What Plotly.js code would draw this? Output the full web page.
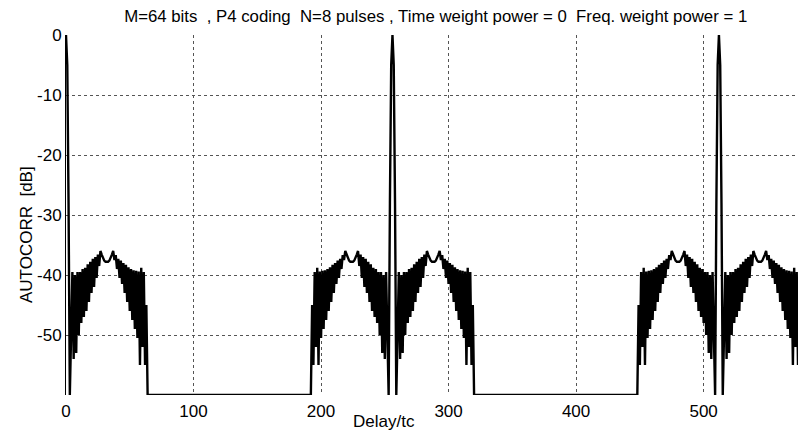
<!DOCTYPE html>
<html>
<head>
<meta charset="utf-8">
<script src="https://cdn.plot.ly/plotly-3.0.1.min.js"></script>
<style>html,body{margin:0;padding:0;background:#fff;}#chart{width:798px;height:434px;}</style>
</head>
<body>
<div id="chart"></div>
<script>
// Peak positions (Delay/tc) of the pulse-train autocorrelation
var peakDelays = [0, 256, 512];
// Main-lobe level (dB) at distance 0..3 from a peak
var mainLobeDb = [0, -5, -28, -60];
// Side-lobe level (dB) at distance 4..64 from a peak
var sideLobeDb = [
  -50, -39.5, -54, -40, -53, -39.5, -50, -39.5,
  -48, -39, -47, -38.8, -46, -38.2, -44.5, -37.8, -43, -37.3,
  -42, -37, -40.5, -36.6, -38.5, -36, -36.6, -37.2, -37.6, -37.8,
  -37.8, -37.8, -37.6, -37.2, -36.6, -36, -37.5, -36.7, -39, -37.3,
  -40.5, -37.6, -41.5, -38, -43, -38.3, -44.5, -38.7, -46, -39,
  -47.5, -39.2, -49, -39.3, -50.5, -39.4, -55, -38.8, -52, -39.5,
  -55, -45, -60
];
// Floor of the displayed range (dB)
var floorDb = -60;
var maxDelay = 574;

var delays = [], autocorr = [];
for (var x = 0; x <= maxDelay; x++) {
  var d = Infinity;
  peakDelays.forEach(function (p) { d = Math.min(d, Math.abs(x - p)); });
  var v;
  if (d < mainLobeDb.length) v = mainLobeDb[d];
  else if (d - mainLobeDb.length < sideLobeDb.length) v = sideLobeDb[d - mainLobeDb.length];
  else v = floorDb;
  delays.push(x);
  autocorr.push(v);
}

var xTicks = [0, 100, 200, 300, 400, 500];
var yTicks = [-60, -50, -40, -30, -20, -10, 0];
var yTickText = ['', '-50', '-40', '-30', '-20', '-10', '0'];

var font = 'Liberation Sans, Arial, sans-serif';

var trace = {
  x: delays, y: autocorr, type: 'scatter', mode: 'lines',
  line: {color: '#000', width: 2.4}, hoverinfo: 'skip'
};

var layout = {
  width: 798, height: 434,
  margin: {l: 66, r: 0, t: 35, b: 39},
  paper_bgcolor: '#fff', plot_bgcolor: '#fff',
  showlegend: false,
  font: {family: font, size: 17, color: '#000'},
  title: {
    text: 'M=64 bits  , P4 coding  N=8 pulses , Time weight power = 0  Freq. weight power = 1',
    font: {family: font, size: 16.8, color: '#000'},
    x: 0.546, xanchor: 'center', xref: 'container',
    y: 0.962, yanchor: 'middle', yref: 'container'
  },
  xaxis: {
    range: [0, maxDelay], tickvals: xTicks, ticks: '',
    showgrid: true, gridcolor: '#555', gridwidth: 1, griddash: 'dot',
    zeroline: false, showline: false, ticklabelstandoff: 4,
    tickfont: {family: font, size: 17, color: '#000'}
  },
  yaxis: {
    range: [-60, 0], tickvals: yTicks, ticktext: yTickText, ticks: '',
    showgrid: true, gridcolor: '#555', gridwidth: 1, griddash: 'dot',
    zeroline: false, showline: true, linecolor: '#000', linewidth: 1,
    tickfont: {family: font, size: 17, color: '#000'}
  },
  annotations: [{
    text: 'Delay/tc', xref: 'paper', yref: 'paper',
    x: (384 - 66) / 732, y: (395 - 421) / 360, xanchor: 'center', yanchor: 'middle',
    showarrow: false, font: {family: font, size: 17, color: '#000'}
  }, {
    text: 'AUTOCORR  [dB]', xref: 'paper', yref: 'paper', textangle: -90,
    x: (26 - 66) / 732, y: (395 - 235) / 360, xanchor: 'center', yanchor: 'middle',
    showarrow: false, font: {family: font, size: 17, color: '#000'}
  }]
};

Plotly.newPlot('chart', [trace], layout, {staticPlot: true, displayModeBar: false});
</script>
</body>
</html>
